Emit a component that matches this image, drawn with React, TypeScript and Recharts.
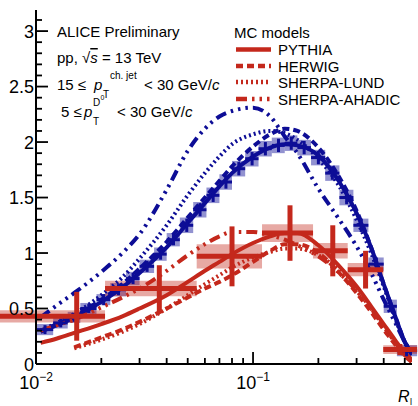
import React from 'react';
import { ComposedChart, Line, Scatter, ErrorBar, XAxis, YAxis, ReferenceArea, ReferenceLine } from 'recharts';

const BLUE = '#0d0d96';
const RED = '#c4281c';
const FONT = '"Liberation Sans", Arial, Helvetica, sans-serif';

// MC model curves, read on a common R grid
const curveX = [0.0105, 0.0125, 0.015, 0.02, 0.025, 0.03, 0.04, 0.05, 0.06, 0.07, 0.08, 0.1, 0.12, 0.14, 0.16, 0.2, 0.25, 0.3, 0.35, 0.4, 0.45, 0.5, 0.54];

const bluePythia = [0.29, 0.35, 0.42, 0.56, 0.69, 0.82, 1.05, 1.27, 1.45, 1.6, 1.72, 1.87, 1.95, 1.98, 1.97, 1.88, 1.64, 1.36, 1.05, 0.72, 0.44, 0.2, 0.1];
const blueHerwig = [0.3, 0.36, 0.43, 0.58, 0.72, 0.86, 1.1, 1.32, 1.5, 1.65, 1.78, 1.96, 2.07, 2.12, 2.1, 1.95, 1.68, 1.38, 1.05, 0.72, 0.44, 0.2, 0.08];
const blueLund = [0.3, 0.37, 0.45, 0.62, 0.78, 0.95, 1.25, 1.52, 1.72, 1.87, 1.98, 2.07, 2.1, 2.08, 2.02, 1.85, 1.6, 1.3, 1.0, 0.7, 0.42, 0.2, 0.08];
const blueAhadic = [0.42, 0.53, 0.64, 0.83, 1.0, 1.17, 1.57, 1.92, 2.12, 2.23, 2.28, 2.31, 2.23, 2.05, 1.9, 1.58, 1.3, 1.06, 0.82, 0.58, 0.38, 0.2, 0.1];

const redPythia = [0.19, 0.23, 0.28, 0.36, 0.43, 0.5, 0.62, 0.74, 0.84, 0.92, 0.99, 1.09, 1.15, 1.18, 1.18, 1.07, 0.88, 0.7, 0.52, 0.36, 0.22, 0.1, 0.04];
const redHerwig = [null, null, 0.15, 0.24, 0.31, 0.38, 0.5, 0.6, 0.68, 0.74, 0.8, 0.92, 1.02, 1.08, 1.08, 1.0, 0.82, 0.64, 0.47, 0.31, 0.18, 0.07, 0.02];
const redLund = [null, null, 0.14, 0.22, 0.29, 0.36, 0.5, 0.62, 0.72, 0.8, 0.87, 0.96, 1.01, 1.04, 1.04, 0.98, 0.84, 0.67, 0.5, 0.34, 0.2, 0.08, 0.02];
const redAhadic = [0.3, 0.35, 0.4, 0.51, 0.6, 0.68, 0.84, 0.98, 1.08, 1.15, 1.19, 1.19, 1.16, 1.12, 1.07, 0.97, 0.82, 0.66, 0.5, 0.34, 0.2, 0.08, 0.02];

const modelNames = ['PYTHIA', 'HERWIG', 'SHERPA-LUND', 'SHERPA-AHADIC'];
const modelKeys = ['Pythia', 'Herwig', 'Lund', 'Ahadic'];
const modelDash = [undefined, '7 4', '2 3', '11 5 2.5 5 2.5 5 2.5 5'];

// blue measurement
const blueLo = [0.01, 0.012, 0.014, 0.016, 0.019, 0.022, 0.026, 0.03, 0.035, 0.04, 0.046, 0.053, 0.061, 0.07, 0.08, 0.092, 0.106, 0.122, 0.14, 0.16, 0.185, 0.215, 0.25, 0.29, 0.34, 0.4, 0.46];
const blueHi = [0.012, 0.014, 0.016, 0.019, 0.022, 0.026, 0.03, 0.035, 0.04, 0.046, 0.053, 0.061, 0.07, 0.08, 0.092, 0.106, 0.122, 0.14, 0.16, 0.185, 0.215, 0.25, 0.29, 0.34, 0.4, 0.46, 0.57];
const blueX = [0.011, 0.013, 0.015, 0.0175, 0.0205, 0.024, 0.028, 0.0325, 0.0375, 0.043, 0.0495, 0.057, 0.0655, 0.075, 0.086, 0.099, 0.114, 0.131, 0.15, 0.172, 0.2, 0.232, 0.27, 0.315, 0.37, 0.43, 0.51];
const blueY = [0.31, 0.37, 0.42, 0.5, 0.58, 0.67, 0.77, 0.88, 0.99, 1.12, 1.25, 1.39, 1.52, 1.64, 1.76, 1.85, 1.94, 1.97, 1.99, 1.95, 1.86, 1.72, 1.5, 1.25, 0.9, 0.52, 0.12];
const blueStat = [0.04, 0.04, 0.04, 0.04, 0.05, 0.05, 0.05, 0.05, 0.05, 0.05, 0.06, 0.06, 0.06, 0.06, 0.06, 0.06, 0.06, 0.06, 0.06, 0.06, 0.06, 0.06, 0.06, 0.06, 0.06, 0.05, 0.05];
const blueSys = [0.05, 0.05, 0.05, 0.05, 0.05, 0.06, 0.06, 0.06, 0.06, 0.06, 0.07, 0.07, 0.07, 0.07, 0.07, 0.07, 0.07, 0.07, 0.07, 0.07, 0.07, 0.07, 0.07, 0.06, 0.06, 0.06, 0.05];

// red measurement
const redLo = [0.0068, 0.0208, 0.055, 0.11, 0.189, 0.273, 0.398];
const redHi = [0.0208, 0.055, 0.11, 0.189, 0.273, 0.398, 0.57];
const redX = [0.0154, 0.037, 0.08, 0.148, 0.233, 0.33, 0.475];
const redY = [0.43, 0.68, 0.97, 1.18, 1.02, 0.85, 0.13];
const redStat = [0.22, 0.21, 0.27, 0.25, 0.23, 0.17, 0.05];
const redSys = [0.055, 0.07, 0.11, 0.08, 0.07, 0.06, 0.04];

const yTicks = [0, 0.1, 0.2, 0.3, 0.4, 0.5, 0.6, 0.7, 0.8, 0.9, 1, 1.1, 1.2, 1.3, 1.4, 1.5, 1.6, 1.7, 1.8, 1.9, 2, 2.1, 2.2, 2.3, 2.4, 2.5, 2.6, 2.7, 2.8, 2.9, 3, 3.1];
const yMajor = [0, 0.5, 1, 1.5, 2, 2.5, 3];
const yLabels = ['0', '0.5', '1', '1.5', '2', '2.5', '3'];
const xTicks = [0.01, 0.02, 0.03, 0.04, 0.05, 0.06, 0.07, 0.08, 0.09, 0.1, 0.2, 0.3, 0.4, 0.5];
const xMajor = [0.01, 0.1];
const xExp = ['\u22122', '\u22121'];

const X_DOMAIN = [0.01, 0.54];
const Y_DOMAIN = [0, 3.19];

const curveRows = curveX.map((x, i) => ({
  x,
  bluePythia: bluePythia[i], blueHerwig: blueHerwig[i], blueLund: blueLund[i], blueAhadic: blueAhadic[i],
  redPythia: redPythia[i], redHerwig: redHerwig[i], redLund: redLund[i], redAhadic: redAhadic[i],
}));

const pointRows = (xs: number[], ys: number[], stat: number[]) =>
  xs.map((x, i) => ({ x, y: ys[i], ey: stat[i] }));

const blueRows = pointRows(blueX, blueY, blueStat);
const redRows = pointRows(redX, redY, redStat);

const tickStroke = { stroke: '#000', strokeWidth: 1.8 };

function LeftTick({ x, y, payload }: any) {
  const i = yMajor.indexOf(payload.value);
  const ax = x + 2;
  return (
    <g>
      <line x1={ax} x2={ax + (i >= 0 ? 12 : 6)} y1={y} y2={y} {...tickStroke} />
      {i >= 0 && (
        <text x={x} y={y + 6.5} textAnchor="end" fontSize={18} fontFamily={FONT} fill="#000">{yLabels[i]}</text>
      )}
    </g>
  );
}

function RightTick({ x, y, payload }: any) {
  const major = yMajor.indexOf(payload.value) >= 0;
  return <line x1={x} x2={x - (major ? 12 : 6)} y1={y} y2={y} {...tickStroke} />;
}

function BottomTick({ x, y, payload }: any) {
  const i = xMajor.indexOf(payload.value);
  return (
    <g>
      <line x1={x} x2={x} y1={y} y2={y - (i >= 0 ? 12 : 6)} {...tickStroke} />
      {i >= 0 && (
        <text x={x} y={y + 25} textAnchor="middle" fontSize={18} fontFamily={FONT} fill="#000">
          10<tspan dy={-8} fontSize={12}>{xExp[i]}</tspan>
        </text>
      )}
    </g>
  );
}

function TopTick({ x, y, payload }: any) {
  const major = xMajor.indexOf(payload.value) >= 0;
  return <line x1={x} x2={x} y1={y} y2={y + (major ? 12 : 6)} {...tickStroke} />;
}

const axisLine = { stroke: '#000', strokeWidth: 2 };

export default function App() {
  const txt = { fontFamily: FONT, fill: '#000' };
  return (
    <div style={{ position: 'absolute', left: 0, top: 0, width: 418, height: 406, background: '#fff' }}>
      <ComposedChart width={418} height={406} margin={{ top: 10, right: 6, bottom: 0, left: 0 }}>
        <XAxis dataKey="x" type="number" scale="log" domain={X_DOMAIN} allowDataOverflow ticks={xTicks}
          interval={0} height={42} tickSize={0} tickMargin={0} tickLine={false} tick={BottomTick} axisLine={axisLine} />
        <XAxis xAxisId="top" orientation="top" dataKey="x" type="number" scale="log" domain={X_DOMAIN} allowDataOverflow
          ticks={xTicks} interval={0} height={0} tickSize={0} tickMargin={0} tickLine={false} tick={TopTick} axisLine={axisLine} />
        <YAxis type="number" domain={Y_DOMAIN} allowDataOverflow ticks={yTicks} interval={0} width={36}
          tickSize={0} tickMargin={2} tickLine={false} tick={LeftTick} axisLine={axisLine} />
        <YAxis yAxisId="right" orientation="right" type="number" domain={Y_DOMAIN} allowDataOverflow ticks={yTicks}
          interval={0} width={0} tickSize={0} tickMargin={0} tickLine={false} tick={RightTick} axisLine={axisLine} />

        {blueLo.map((lo, i) => (
          <ReferenceArea key={'bb' + i} x1={lo} x2={blueHi[i]} y1={blueY[i] - blueSys[i]} y2={blueY[i] + blueSys[i]}
            fill={BLUE} fillOpacity={0.45} stroke="none" ifOverflow="visible" />
        ))}
        {redLo.map((lo, i) => (
          <ReferenceArea key={'rb' + i} x1={lo} x2={redHi[i]} y1={redY[i] - redSys[i]} y2={redY[i] + redSys[i]}
            fill={RED} fillOpacity={0.4} stroke="none" ifOverflow="visible" />
        ))}

        {modelKeys.map((k, i) => (
          <Line key={'bl' + k} data={curveRows} dataKey={'blue' + k} type="monotone" stroke={BLUE} strokeWidth={4}
            strokeDasharray={modelDash[i]} dot={false} activeDot={false} isAnimationActive={false} />
        ))}
        {modelKeys.map((k, i) => (
          <Line key={'rl' + k} data={curveRows} dataKey={'red' + k} type="monotone" stroke={RED} strokeWidth={4}
            strokeDasharray={modelDash[i]} dot={false} activeDot={false} isAnimationActive={false} />
        ))}

        {blueLo.map((lo, i) => (
          <ReferenceLine key={'bh' + i} segment={[{ x: lo, y: blueY[i] }, { x: blueHi[i], y: blueY[i] }]}
            stroke={BLUE} strokeWidth={3} ifOverflow="visible" />
        ))}
        <Scatter data={blueRows} dataKey="y" shape={() => <g />} isAnimationActive={false}>
          <ErrorBar dataKey="ey" direction="y" width={0} stroke={BLUE} strokeWidth={3} />
        </Scatter>
        {redLo.map((lo, i) => (
          <ReferenceLine key={'rh' + i} segment={[{ x: lo, y: redY[i] }, { x: redHi[i], y: redY[i] }]}
            stroke={RED} strokeWidth={5} ifOverflow="visible" />
        ))}
        <Scatter data={redRows} dataKey="y" shape={() => <g />} isAnimationActive={false}>
          <ErrorBar dataKey="ey" direction="y" width={0} stroke={RED} strokeWidth={5} />
        </Scatter>
      </ComposedChart>

      <svg width={418} height={406} style={{ position: 'absolute', left: 0, top: 0, pointerEvents: 'none' }}>
        <text x={57} y={37} fontSize={15} {...txt}>ALICE Preliminary</text>
        <text x={57} y={63} fontSize={15} {...txt}>
          pp, {'\u221A'}<tspan fontStyle="italic" style={{ textDecoration: 'overline' }}>s</tspan> = 13 TeV
        </text>

        <text x={57} y={90} fontSize={15} {...txt}>15 {'\u2264'}</text>
        <text x={94} y={90} fontSize={15} fontStyle="italic" {...txt}>p</text>
        <text x={103} y={98} fontSize={10} {...txt}>T</text>
        <text x={110} y={79} fontSize={10} {...txt}>ch. jet</text>
        <text x={144} y={90} fontSize={15} {...txt}>{'< 30 GeV/'}<tspan fontStyle="italic">c</tspan></text>

        <text x={61} y={117} fontSize={15} {...txt}>5 {'\u2264'}</text>
        <text x={84} y={117} fontSize={15} fontStyle="italic" {...txt}>p</text>
        <text x={93} y={125} fontSize={10} {...txt}>T</text>
        <text x={93} y={106} fontSize={10} {...txt}>D</text>
        <text x={100.5} y={100} fontSize={7} {...txt}>0</text>
        <text x={117} y={117} fontSize={15} {...txt}>{'< 30 GeV/'}<tspan fontStyle="italic">c</tspan></text>

        <text x={234} y={38} fontSize={15} {...txt}>MC models</text>
        {modelNames.map((name, i) => {
          const cy = [49.5, 66, 82, 99][i];
          return (
            <g key={name}>
              <line x1={236} x2={271} y1={cy} y2={cy} stroke={RED} strokeWidth={4.5} strokeDasharray={modelDash[i]} />
              <text x={278} y={cy + 5.5} fontSize={15} {...txt}>{name}</text>
            </g>
          );
        })}

        <text x={398} y={402} fontSize={16} fontStyle="italic" {...txt}>R</text>
        <text x={410} y={405} fontSize={9} {...txt}>l</text>
      </svg>
    </div>
  );
}
